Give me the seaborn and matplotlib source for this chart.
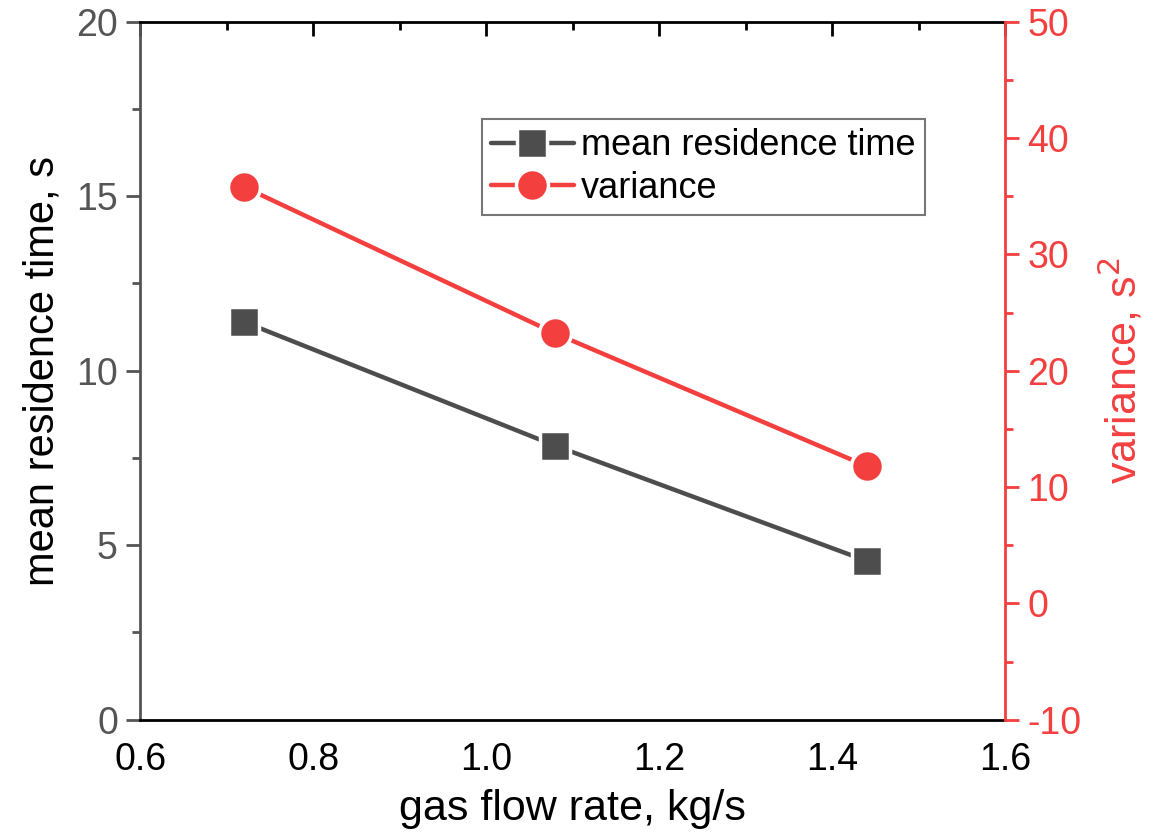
import matplotlib
matplotlib.use("Agg")
import matplotlib.pyplot as plt
import seaborn as sns
import pandas as pd
from matplotlib.ticker import MultipleLocator, FormatStrFormatter

sns.set_style("white")
plt.rcParams['font.family'] = ['Liberation Sans', 'DejaVu Sans']
plt.rcParams['axes.unicode_minus'] = False
plt.rcParams['text.color'] = 'black'

flow = [0.72, 1.08, 1.44]
mean_time = [11.4, 7.85, 4.55]
variance = [35.8, 23.2, 11.8]

gray = '#4d4d4d'
red = '#f43f3f'
axgray = '#555555'

fig = plt.figure(figsize=(11.58, 8.34), dpi=100)
ax = fig.add_axes([0.121, 0.137, 0.747, 0.837])
ax2 = ax.twinx()

df = pd.DataFrame({'flow': flow, 'mean': mean_time, 'var': variance})
sns.lineplot(data=df, x='flow', y='mean', ax=ax, color=gray, marker='s', markersize=21,
             linewidth=3.2, markeredgecolor='white', markeredgewidth=2.5,
             label='mean residence time', legend=False)
sns.lineplot(data=df, x='flow', y='var', ax=ax2, color=red, marker='o', markersize=23,
             linewidth=3.2, markeredgecolor='white', markeredgewidth=2.5,
             label='variance', legend=False)

ax.set_xlim(0.6, 1.6)
ax.set_ylim(0, 20)
ax2.set_ylim(-10, 50)
ax.xaxis.set_major_locator(MultipleLocator(0.2))
ax.xaxis.set_minor_locator(MultipleLocator(0.1))
ax.xaxis.set_major_formatter(FormatStrFormatter('%.1f'))
ax.yaxis.set_major_locator(MultipleLocator(5))
ax.yaxis.set_minor_locator(MultipleLocator(2.5))
ax2.yaxis.set_major_locator(MultipleLocator(10))
ax2.yaxis.set_minor_locator(MultipleLocator(5))

tfs = 27
ax.set_xlabel('gas flow rate, kg/s', fontsize=31, color='black', labelpad=8)
ax.set_ylabel('mean residence time, s', fontsize=30, color='black', labelpad=10)
ax2.set_ylabel('variance, s$^2$', fontsize=31, color=red, labelpad=12)

for a in (ax, ax2):
    for s in a.spines.values():
        s.set_linewidth(2)
ax.spines['left'].set_color(axgray)
ax.spines['bottom'].set_color('black')
ax.spines['top'].set_color('black')
ax2.spines['right'].set_color(red)
ax2.spines['left'].set_visible(False)
ax2.spines['top'].set_visible(False)
ax2.spines['bottom'].set_visible(False)
ax.spines['right'].set_visible(False)

ax.tick_params(axis='x', which='major', direction='out', length=10, width=2, colors='black',
               labelsize=tfs, top=True, pad=6)
ax.tick_params(axis='x', which='minor', direction='out', length=6, width=2, colors='black', top=True)
ax.tick_params(axis='y', which='major', direction='out', length=10, width=2, color=axgray,
               labelcolor=axgray, labelsize=tfs, right=False, pad=6)
ax.tick_params(axis='y', which='minor', direction='out', length=6, width=2, color=axgray, right=False)
ax2.tick_params(axis='y', which='major', direction='out', length=10, width=2, colors=red,
                labelsize=tfs, left=False, pad=6)
ax2.tick_params(axis='y', which='minor', direction='out', length=6, width=2, colors=red, left=False)
# top ticks point inward
for t in ax.xaxis.get_major_ticks() + ax.xaxis.get_minor_ticks():
    t.tick2line.set_marker(3)
for t in ax.xaxis.get_major_ticks():
    t.tick2line.set_markersize(10)
for t in ax.xaxis.get_minor_ticks():
    t.tick2line.set_markersize(6)

h1, l1 = ax.get_legend_handles_labels()
h2, l2 = ax2.get_legend_handles_labels()
leg = ax2.legend(h1 + h2, l1 + l2, loc='upper left', bbox_to_anchor=(0.395, 0.86),
                 fontsize=26, frameon=True, fancybox=False, edgecolor=axgray,
                 handlelength=2.3, handletextpad=0.2, borderpad=0.25, labelspacing=0.2,
                 borderaxespad=0)
leg.get_frame().set_linewidth(1.5)
for txt in leg.get_texts():
    txt.set_color('black')

fig.savefig('out.png', dpi=100)
